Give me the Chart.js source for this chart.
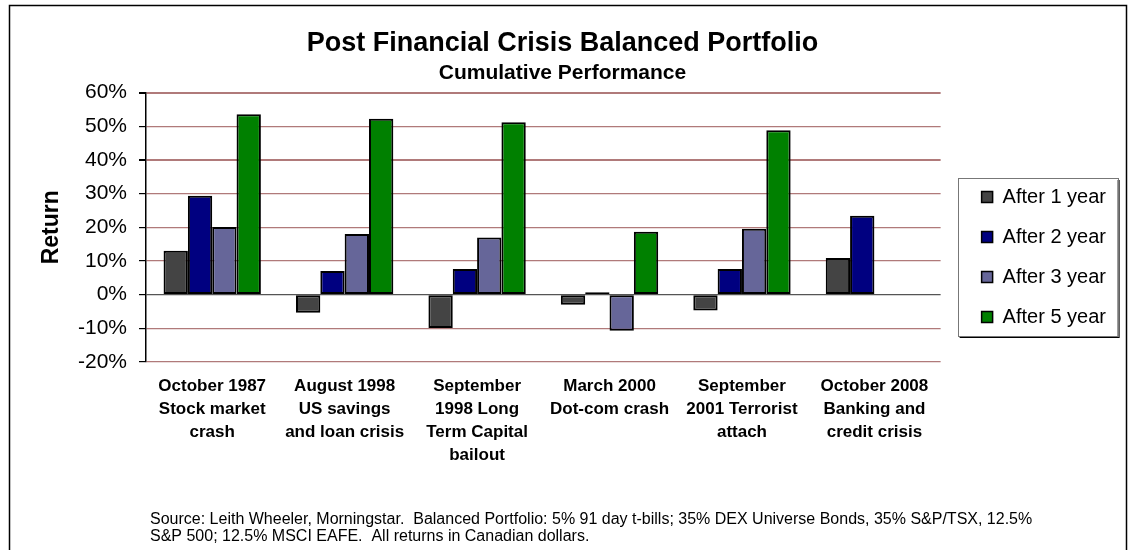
<!DOCTYPE html>
<html>
<head>
<meta charset="utf-8">
<script src="https://cdn.jsdelivr.net/npm/chart.js@4.4.1/dist/chart.umd.min.js"></script>
<style>
  html, body { margin: 0; padding: 0; background: #fff; }
  #wrap { width: 1133px; height: 550px; position: relative; }
</style>
</head>
<body>
<div id="wrap"><canvas id="crisisChart"></canvas></div>
<script>
// categories (multi-line labels as in the original)
var crises = [
  ['October 1987', 'Stock market', 'crash'],
  ['August 1998', 'US savings', 'and loan crisis'],
  ['September', '1998 Long', 'Term Capital', 'bailout'],
  ['March 2000', 'Dot-com crash'],
  ['September', '2001 Terrorist', 'attach'],
  ['October 2008', 'Banking and', 'credit crisis']
];

// cumulative returns, %
var after1 = [13, -5.4, -9.9, -3, -4.7, 10.9];
var after2 = [29.4, 7, 7.6, 0.7, 7.6, 23.4];
var after3 = [20.1, 18, 17, -10.7, 19.6, null];
var after5 = [53.6, 52.2, 51.2, 18.7, 48.8, null];

var seriesNames = ['After 1 year', 'After 2 year', 'After 3 year', 'After 5 year'];
var seriesColors = ['#444444', '#000080', '#666699', '#008000'];

var footnote = [
  'Source: Leith Wheeler, Morningstar.  Balanced Portfolio: 5% 91 day t-bills; 35% DEX Universe Bonds, 35% S&P/TSX, 12.5%',
  'S&P 500; 12.5% MSCI EAFE.  All returns in Canadian dollars.'
];

Chart.defaults.font.family = "'Liberation Sans', Arial, sans-serif";
Chart.defaults.color = '#000';

// outer frame, legend box, source note
var framePlugin = {
  id: 'frame',
  afterLayout: function (chart) {
    var lg = chart.legend;
    lg.left += 21; lg.right += 21;
    lg.top += 21; lg.bottom += 21;
  },
  afterDraw: function (chart) {
    var ctx = chart.ctx;
    ctx.save();
    // outer border (bottom edge is cut off in the original)
    ctx.strokeStyle = '#000';
    ctx.lineWidth = 1.5;
    ctx.beginPath();
    ctx.moveTo(9.5, 560);
    ctx.lineTo(9.5, 5.5);
    ctx.lineTo(1126.5, 5.5);
    ctx.lineTo(1126.5, 560);
    ctx.stroke();

    // legend frame
    var hb = chart.legend.legendHitBoxes;
    if (hb && hb.length) {
      var x0 = hb[0].left - 24, x1 = hb[0].left + 136;
      var y0 = hb[0].top - 9, y1 = hb[hb.length - 1].top + hb[hb.length - 1].height + 9;
      ctx.strokeStyle = '#000';
      ctx.lineWidth = 2;
      ctx.beginPath();
      ctx.moveTo(x1 + 1, y0 + 2);
      ctx.lineTo(x1 + 1, y1 + 1);
      ctx.lineTo(x0 + 2, y1 + 1);
      ctx.stroke();
      ctx.strokeStyle = '#777';
      ctx.lineWidth = 1;
      ctx.strokeRect(Math.round(x0) + 0.5, Math.round(y0) + 0.5, x1 - x0, y1 - y0);
    }

    // source note
    ctx.fillStyle = '#000';
    ctx.font = "16px 'Liberation Sans', Arial, sans-serif";
    ctx.textBaseline = 'middle';
    ctx.textAlign = 'left';
    footnote.forEach(function (line, i) {
      ctx.fillText(line, 150, 520 + i * 17);
    });
    ctx.restore();
  }
};

var datasets = [after1, after2, after3, after5].map(function (vals, i) {
  return {
    label: seriesNames[i],
    data: vals,
    backgroundColor: seriesColors[i],
    borderColor: '#000',
    borderWidth: 2,
    borderSkipped: false,
    barPercentage: 1,
    categoryPercentage: 0.735
  };
});

var ctx = document.getElementById('crisisChart').getContext('2d');
var crisisChart = new Chart(ctx, {
  type: 'bar',
  data: {
    labels: crises,
    datasets: datasets
  },
  plugins: [framePlugin],
  options: {
    responsive: true,
    maintainAspectRatio: false,
    animation: false,
    layout: {
      padding: { left: 30, right: 38, top: 0, bottom: 78 }
    },
    plugins: {
      title: {
        display: true,
        text: 'Post Financial Crisis Balanced Portfolio',
        font: { size: 27, weight: 'bold' },
        padding: { top: 27, bottom: 0 }
      },
      subtitle: {
        display: true,
        text: 'Cumulative Performance',
        color: '#000',
        font: { size: 21, weight: 'bold' },
        padding: { top: 1, bottom: 7 }
      },
      legend: {
        position: 'right',
        labels: {
          font: { size: 20 },
          boxWidth: 11,
          boxHeight: 11,
          padding: 20,
          generateLabels: function (chart) {
            return Chart.defaults.plugins.legend.labels.generateLabels(chart).map(function (l) {
              l.lineWidth = 1.5;
              return l;
            });
          }
        }
      },
      tooltip: {
        enabled: false
      }
    },
    scales: {
      x: {
        grid: {
          display: false,
          drawTicks: false
        },
        border: {
          display: false
        },
        ticks: {
          font: { size: 17, weight: 'bold', lineHeight: 1.35 },
          padding: 13,
          maxRotation: 0,
          autoSkip: false
        },
        afterFit: function (scale) {
          scale.height = 110;
        }
      },
      y: {
        min: -20,
        max: 60,
        ticks: {
          stepSize: 10,
          font: { size: 21 },
          padding: 12,
          callback: function (v) { return v + '%'; }
        },
        grid: {
          color: function (c) {
            return c.tick && c.tick.value === 0 ? '#555555' : '#b07a7a';
          },
          lineWidth: function (c) {
            return c.tick && (c.tick.value === 60 || c.tick.value === 40) ? 2 : 1.2;
          },
          tickColor: '#000',
          tickLength: 7
        },
        border: {
          display: true,
          color: '#000',
          width: 1.5
        },
        title: {
          display: true,
          text: 'Return',
          font: { size: 23, weight: 'bold' },
          padding: { top: 8, bottom: 0 }
        },
        afterFit: function (scale) {
          scale.width = 116;
        }
      }
    }
  }
});
</script>
</body>
</html>
